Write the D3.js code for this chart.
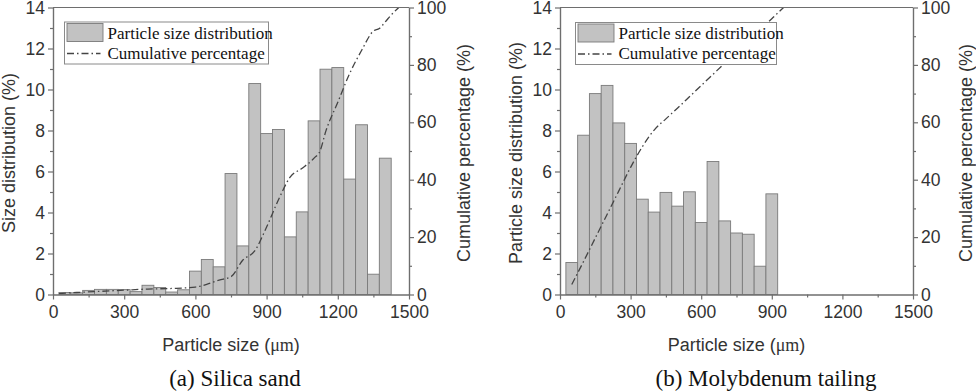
<!DOCTYPE html>
<html>
<head>
<meta charset="utf-8">
<script src="https://cdn.jsdelivr.net/npm/d3@7"></script>
<style>
  body { margin: 0; background: #fff; }
  svg { display: block; }
</style>
</head>
<body>
<svg id="chart" width="976" height="391"></svg>
<script>
// DATA
const sandSizes = [50, 100, 150, 200, 250, 300, 350, 400, 450, 500, 550, 600, 650, 700,
  750, 800, 850, 900, 950, 1000, 1050, 1100, 1150, 1200, 1250, 1300, 1350, 1400]
const sandDist = [0.10, 0.08, 0.20, 0.25, 0.25, 0.24, 0.14, 0.45, 0.34, 0.12, 0.23, 1.14, 1.71, 1.35,
  5.90, 2.37, 10.29, 7.85, 8.05, 2.81, 4.03, 8.47, 10.99, 11.07, 5.63, 8.28, 0.99, 6.65]
const sandCumX = [25, 100, 200, 300, 400, 500, 600, 650, 700, 750, 800, 850, 900, 950, 1000,
  1050, 1100, 1125, 1150, 1200, 1250, 1300, 1350, 1375, 1400, 1425, 1457]
const sandCum = [0.3, 0.7, 1.1, 1.5, 1.9, 2.1, 2.6, 3.6, 5.0, 6.2, 12.0, 15.2, 23.5, 33.0, 41.0,
  44.0, 47.5, 50.0, 57.0, 67.0, 77.0, 85.0, 91.8, 92.7, 95.0, 97.4, 100]

const moSizes = [50, 100, 150, 200, 250, 300, 350, 400, 450, 500, 550, 600, 650, 700, 750, 800, 850, 900]
const moDist = [1.56, 7.77, 9.80, 10.20, 8.37, 7.37, 4.65, 4.02, 4.98, 4.31, 5.01, 3.51, 6.49, 3.59,
  3.00, 2.94, 1.38, 4.91]
const moCumX = [50, 100, 150, 200, 250, 300, 350, 400, 450, 500, 550, 600, 650, 700, 750, 800, 850, 900, 950]
const moCum = [3.5, 11.5, 19.7, 27.9, 36.1, 44.3, 51.5, 57.3, 61.2, 65.0, 68.9, 72.8, 76.7, 80.6,
  84.4, 88.3, 92.2, 96.1, 100]

const xTicks = [0, 300, 600, 900, 1200, 1500]
const yLeftTicks = [0, 2, 4, 6, 8, 10, 12, 14]
const yRightTicks = [0, 20, 40, 60, 80, 100]
const binWidth = 50

const svg = d3.select('#chart')

const axisColour = '#6e6e6e'
const textColour = '#333333'
const sansFont = '"Liberation Sans", Arial, sans-serif'
const serifFont = '"Liberation Serif", "Times New Roman", serif'
const fmt = d3.format('d')

function drawPanel(cfg) {
  let m = cfg.box
  let w = m.right - m.left
  let h = m.bottom - m.top

  let g = svg.append('g').attr('transform', `translate(${m.left},${m.top})`)

  let x = d3.scaleLinear().domain([0, 1500]).range([0, w])
  let y = d3.scaleLinear().domain([0, 14]).range([h, 0])
  let y2 = d3.scaleLinear().domain([0, 100]).range([h, 0])

  // CLIP
  g.append('clipPath').attr('id', 'clip-' + cfg.id)
    .append('rect').attr('width', w).attr('height', h)

  // BARS
  g.append('g')
    .selectAll('rect')
    .data(cfg.sizes.map((s, i) => ({size: s, value: cfg.dist[i]})))
    .join('rect')
      .attr('x', d => x(d.size - binWidth / 2))
      .attr('y', d => y(d.value))
      .attr('width', d => x(d.size + binWidth / 2) - x(d.size - binWidth / 2))
      .attr('height', d => h - y(d.value))
      .attr('fill', '#c2c2c2')
      .attr('stroke', '#7a7a7a')
      .attr('stroke-width', 0.9)

  // CUMULATIVE LINE
  let line = d3.line()
    .x(d => x(d[0]))
    .y(d => y2(d[1]))
    .curve(d3.curveMonotoneX)

  g.append('path')
    .datum(cfg.cumX.map((v, i) => [v, cfg.cum[i]]))
    .attr('clip-path', `url(#clip-${cfg.id})`)
    .attr('d', line)
    .attr('fill', 'none')
    .attr('stroke', '#444')
    .attr('stroke-width', 1.3)
    .attr('stroke-dasharray', '7,3,1.5,3')

  // AXES
  g.append('g')
    .attr('transform', `translate(0,${h})`)
    .call(d3.axisBottom(x).tickValues(xTicks).tickFormat(fmt).tickSize(5).tickSizeOuter(0).tickPadding(6))
  g.append('g')
    .attr('transform', `translate(0,${h})`)
    .call(d3.axisBottom(x).tickValues(d3.range(150, 1500, 300)).tickSize(3).tickSizeOuter(0).tickFormat(''))

  g.append('g')
    .call(d3.axisLeft(y).tickValues(yLeftTicks).tickFormat(fmt).tickSize(5).tickSizeOuter(0).tickPadding(3))
  g.append('g')
    .call(d3.axisLeft(y).tickValues(d3.range(1, 14, 2)).tickSize(3).tickSizeOuter(0).tickFormat(''))

  g.append('g')
    .attr('transform', `translate(${w},0)`)
    .call(d3.axisRight(y2).tickValues(yRightTicks).tickFormat(fmt).tickSize(5).tickSizeOuter(0).tickPadding(3))
  g.append('g')
    .attr('transform', `translate(${w},0)`)
    .call(d3.axisRight(y2).tickValues(d3.range(10, 100, 20)).tickSize(3).tickSizeOuter(0).tickFormat(''))

  // TOP FRAME
  g.append('line')
    .attr('x1', 0).attr('x2', w).attr('y1', 0).attr('y2', 0)
    .attr('stroke', axisColour).attr('stroke-width', 1.2)

  g.selectAll('.domain, .tick line').attr('stroke', axisColour).attr('stroke-width', 1.2)
  g.selectAll('.tick text')
    .attr('fill', textColour)
    .attr('font-family', sansFont)
    .attr('font-size', 17.5)

  // AXIS LABELS
  g.append('text')
    .attr('transform', `translate(${cfg.leftLabelX - m.left},${h / 2 + 2}) rotate(-90)`)
    .attr('text-anchor', 'middle')
    .attr('dominant-baseline', 'central')
    .attr('fill', textColour)
    .attr('font-family', sansFont)
    .attr('font-size', 18)
    .text(cfg.leftLabel)

  g.append('text')
    .attr('transform', `translate(${cfg.rightLabelX - m.left},${h / 2 + 2}) rotate(-90)`)
    .attr('text-anchor', 'middle')
    .attr('dominant-baseline', 'central')
    .attr('fill', textColour)
    .attr('font-family', sansFont)
    .attr('font-size', 18)
    .text('Cumulative percentage (%)')

  let xLab = g.append('text')
    .attr('x', w / 2)
    .attr('y', 345 - m.top)
    .attr('text-anchor', 'middle')
    .attr('dominant-baseline', 'central')
    .attr('fill', textColour)
    .attr('font-family', sansFont)
    .attr('font-size', 18)
  xLab.append('tspan').text('Particle size (')
  xLab.append('tspan').attr('font-family', serifFont).text('\u03bcm')
  xLab.append('tspan').text(')')

  // CAPTION
  g.append('text')
    .attr('x', cfg.captionX - m.left)
    .attr('y', 378 - m.top)
    .attr('text-anchor', 'middle')
    .attr('dominant-baseline', 'central')
    .attr('fill', '#111')
    .attr('font-family', serifFont)
    .attr('font-size', 23)
    .text(cfg.caption)

  // LEGEND
  let lg = g.append('g').attr('transform', `translate(${cfg.legend.x - m.left},${cfg.legend.y - m.top})`)
  lg.append('rect')
    .attr('width', cfg.legend.w).attr('height', 42)
    .attr('fill', '#fff').attr('stroke', '#8a8a8a').attr('stroke-width', 1)
  lg.append('rect')
    .attr('x', 2.5).attr('y', 1.5).attr('width', 36).attr('height', 18)
    .attr('fill', '#c2c2c2').attr('stroke', '#7a7a7a').attr('stroke-width', 0.9)
  lg.append('line')
    .attr('x1', 2.5).attr('x2', 36).attr('y1', 31.5).attr('y2', 31.5)
    .attr('stroke', '#444').attr('stroke-width', 1.3)
    .attr('stroke-dasharray', '7,3,1.5,3')
  lg.append('text')
    .attr('x', 43).attr('y', 11)
    .attr('dominant-baseline', 'central')
    .attr('fill', '#111')
    .attr('font-family', serifFont)
    .attr('font-size', 17)
    .text('Particle size distribution')
  lg.append('text')
    .attr('x', 43).attr('y', 31)
    .attr('dominant-baseline', 'central')
    .attr('fill', '#111')
    .attr('font-family', serifFont)
    .attr('font-size', 17)
    .text('Cumulative percentage')
}

drawPanel({
  id: 'a',
  box: {left: 53, right: 409, top: 7.5, bottom: 294.5},
  sizes: sandSizes, dist: sandDist, cumX: sandCumX, cum: sandCum,
  leftLabel: 'Size distribution (%)', leftLabelX: 9, rightLabelX: 464,
  caption: '(a) Silica sand', captionX: 235,
  legend: {x: 64.5, y: 22, w: 204}
})

drawPanel({
  id: 'b',
  box: {left: 560, right: 913, top: 7.5, bottom: 294.5},
  sizes: moSizes, dist: moDist, cumX: moCumX, cum: moCum,
  leftLabel: 'Particle size distribution (%)', leftLabelX: 516, rightLabelX: 966,
  caption: '(b) Molybdenum tailing', captionX: 766,
  legend: {x: 575.5, y: 22.5, w: 201}
})
</script>
</body>
</html>
